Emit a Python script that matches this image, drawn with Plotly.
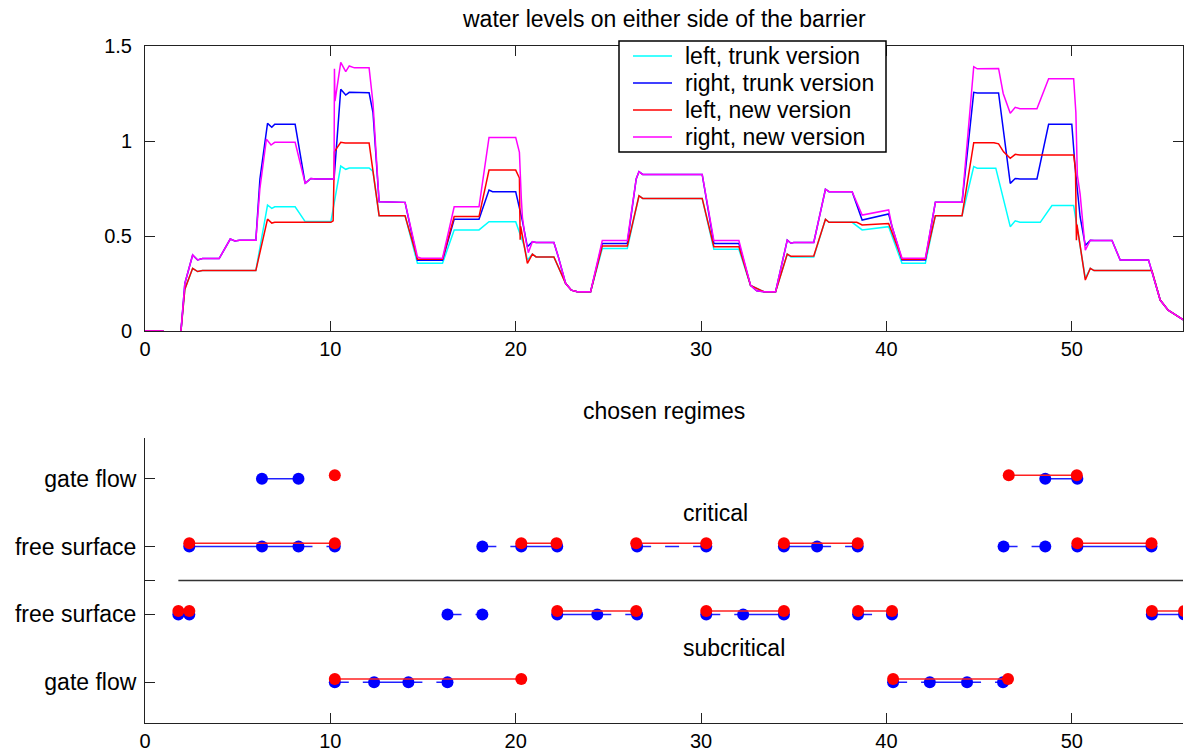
import plotly.graph_objects as go

# ---------------- top panel data: water levels (time, level) ----------------
left_trunk_t = [0, 1.0, None, 1.94, 2.15, 2.57, 2.84, 3.1, 5.98, 6.61, 6.84, 7.0, 8.1, 8.64, 10.03, 10.56, 10.83, 11.02,
                12.09, 12.3, 12.63, 14.03, 14.7, 16.05, 16.68, 18.02, 18.56, 20.0, 20.45, 20.63, 20.9, 21.1, 22.06,
                22.69, 23.0, 23.32, 24.04, 24.67, 26.02, 26.65, 26.85, 30.06, 30.69, 32.04, 32.67, 33.39, 34.02,
                34.65, 34.85, 36.08, 36.71, 36.9, 38.15, 38.69, 40.12, 40.84, 42.1, 42.64, 44.08, 44.71, 44.9, 45.9,
                46.68, 46.95, 47.2, 48.3, 48.93, 50.1, 50.73, 51.0, 51.2, 54.32, 54.77, 55.2, 56.03]
left_trunk_h = [0, 0, None, 0, 0.22, 0.33, 0.313, 0.318, 0.318, 0.663, 0.645, 0.654, 0.654, 0.576, 0.576, 0.868, 0.851,
                0.858, 0.858, 0.84, 0.607, 0.607, 0.356, 0.356, 0.532, 0.532, 0.575, 0.575, 0.45, 0.374, 0.405, 0.39,
                0.39, 0.251, 0.215, 0.207, 0.207, 0.434, 0.434, 0.712, 0.698, 0.698, 0.43, 0.43, 0.24, 0.207, 0.207,
                0.405, 0.39, 0.39, 0.588, 0.572, 0.572, 0.532, 0.549, 0.356, 0.356, 0.607, 0.607, 0.865, 0.857, 0.857,
                0.549, 0.58, 0.572, 0.572, 0.66, 0.66, 0.277, 0.33, 0.318, 0.318, 0.163, 0.11, 0.058]

right_trunk_t = [0, 1.0, None, 1.94, 2.15, 2.57, 2.84, 3.1, 4.0, 4.6, 4.85, 5.1, 5.98, 6.2, 6.61, 6.84, 7.0, 8.1, 8.35,
                 8.64, 8.95, 9.2, 10.03, 10.2, 10.56, 10.83, 11.02, 12.09, 12.3, 12.63, 14.03, 14.7, 16.05, 16.68,
                 18.02, 18.56, 18.75, 20.0, 20.36, 20.63, 20.9, 21.1, 22.06, 22.3, 22.69, 23.0, 23.32, 24.04, 24.67,
                 26.02, 26.5, 26.65, 26.85, 30.06, 30.69, 32.04, 32.67, 33.0, 33.39, 34.02, 34.65, 34.85, 35.0, 36.08,
                 36.71, 36.9, 38.15, 38.69, 40.12, 40.3, 40.84, 42.1, 42.64, 44.08, 44.71, 44.9, 46.05, 46.68, 46.95,
                 47.2, 48.12, 48.75, 50.0, 50.19, 50.45, 50.73, 51.0, 51.2, 52.17, 52.61, 54.14, 54.77, 55.2, 56.03]
right_trunk_h = [0, 0, None, 0, 0.25, 0.40, 0.374, 0.381, 0.381, 0.484, 0.474, 0.477, 0.477, 0.80, 1.093, 1.072, 1.088,
                 1.088, 0.95, 0.777, 0.803, 0.8, 0.8, 0.8, 1.272, 1.242, 1.256, 1.254, 1.15, 0.68, 0.677, 0.373, 0.373,
                 0.588, 0.588, 0.742, 0.733, 0.733, 0.58, 0.443, 0.47, 0.466, 0.466, 0.39, 0.251, 0.215, 0.207, 0.207,
                 0.461, 0.461, 0.80, 0.839, 0.824, 0.824, 0.461, 0.461, 0.24, 0.212, 0.207, 0.207, 0.478, 0.462, 0.466,
                 0.466, 0.746, 0.733, 0.733, 0.584, 0.616, 0.55, 0.374, 0.374, 0.677, 0.677, 1.256, 1.253, 1.253,
                 0.777, 0.803, 0.8, 0.8, 1.088, 1.088, 0.85, 0.60, 0.45, 0.478, 0.476, 0.476, 0.374, 0.374, 0.163,
                 0.11, 0.058]

left_new_t = [0, 1.0, None, 1.94, 2.15, 2.57, 2.84, 3.1, 5.98, 6.61, 6.84, 7.0, 10.03, 10.15, 10.22, 10.56, 10.8, 12.09,
              12.63, 14.03, 14.7, 16.05, 16.68, 18.02, 18.56, 20.0, 20.2, 20.24, 20.27, 20.63, 20.9, 21.1, 22.06,
              22.69, 23.0, 23.32, 24.04, 24.67, 26.02, 26.65, 26.85, 30.06, 30.69, 32.04, 32.67, 33.39, 34.02, 34.65,
              34.85, 36.08, 36.71, 36.9, 38.4, 38.69, 40.12, 40.84, 42.1, 42.64, 44.08, 44.71, 45.8, 46.05, 46.32,
              46.68, 46.95, 47.2, 50.1, 50.2, 50.25, 50.28, 50.73, 51.0, 51.2, 54.32, 54.77, 55.2, 56.03]
left_new_h = [0, 0, None, 0, 0.22, 0.33, 0.313, 0.318, 0.318, 0.589, 0.568, 0.572, 0.572, 0.58, 0.944, 0.993, 0.99,
              0.99, 0.607, 0.607, 0.378, 0.378, 0.602, 0.602, 0.847, 0.847, 0.805, 0.48, 0.55, 0.356, 0.405, 0.39,
              0.39, 0.251, 0.215, 0.207, 0.207, 0.447, 0.447, 0.712, 0.698, 0.698, 0.444, 0.444, 0.24, 0.207, 0.207,
              0.405, 0.393, 0.395, 0.588, 0.572, 0.572, 0.558, 0.566, 0.378, 0.378, 0.607, 0.607, 0.991, 0.991,
              0.985, 0.943, 0.909, 0.93, 0.926, 0.926, 0.85, 0.478, 0.56, 0.268, 0.33, 0.318, 0.318, 0.163, 0.11,
              0.058]

right_new_t = [0, 1.0, None, 1.94, 2.15, 2.57, 2.84, 3.1, 4.0, 4.6, 4.85, 5.1, 5.98, 6.2, 6.55, 6.8, 7.0, 8.1, 8.35,
               8.64, 8.95, 9.2, 10.03, 10.2, 10.22, 10.25, 10.56, 10.83, 11.02, 11.3, 12.09, 12.3, 12.63, 14.03, 14.7,
               14.9, 16.05, 16.68, 18.02, 18.56, 20.0, 20.2, 20.3, 20.36, 20.5, 20.68, 20.9, 21.1, 22.06, 22.3, 22.69,
               23.0, 23.32, 24.04, 24.67, 26.02, 26.5, 26.65, 26.85, 30.06, 30.69, 32.04, 32.67, 33.0, 33.39, 34.02,
               34.65, 34.85, 35.0, 36.08, 36.71, 36.9, 38.15, 38.69, 40.12, 40.3, 40.84, 42.1, 42.64, 44.08, 44.71,
               44.9, 46.05, 46.3, 46.68, 46.95, 47.2, 48.12, 48.75, 50.1, 50.22, 50.3, 50.45, 50.73, 51.0, 51.2,
               52.17, 52.61, 54.14, 54.77, 55.2, 56.03]
right_new_h = [0, 0, None, 0, 0.25, 0.40, 0.374, 0.381, 0.381, 0.484, 0.474, 0.477, 0.477, 0.75, 1.01, 0.979, 0.993,
               0.993, 0.9, 0.777, 0.803, 0.8, 0.8, 0.8, 1.38, 1.21, 1.414, 1.365, 1.395, 1.385, 1.385, 1.2, 0.68,
               0.677, 0.39, 0.383, 0.383, 0.654, 0.654, 1.019, 1.019, 0.94, 0.70, 0.60, 0.50, 0.412, 0.47, 0.466,
               0.466, 0.39, 0.251, 0.215, 0.207, 0.207, 0.476, 0.476, 0.80, 0.839, 0.824, 0.824, 0.476, 0.476, 0.24,
               0.212, 0.207, 0.207, 0.478, 0.462, 0.466, 0.466, 0.746, 0.733, 0.733, 0.61, 0.637, 0.55, 0.383, 0.383,
               0.677, 0.677, 1.391, 1.38, 1.382, 1.25, 1.146, 1.177, 1.17, 1.17, 1.328, 1.328, 1.15, 0.82, 0.72,
               0.426, 0.478, 0.476, 0.476, 0.374, 0.374, 0.163, 0.11, 0.058]

series_names = ["left, trunk version", "right, trunk version", "left, new version", "right, new version"]
series_colors = ["#00ffff", "#0000ff", "#ff0000", "#ff00ff"]

# ---------------- bottom panel data: chosen regimes ----------------
regime_levels = {"gate_sub": 1, "fs_sub": 2, "fs_crit": 3, "gate_crit": 4}
ytick_vals = [1, 2, 2.5, 3, 4]
ytick_text = ["gate flow", "free surface", "", "free surface", "gate flow"]
xtick_vals = [0, 10, 20, 30, 40, 50]
separator_level = 2.5
separator_span = [1.80, 56.0]

# new version: intervals (start, end) spent in each regime
new_intervals = {
    "fs_sub": [(1.80, 2.39), (22.24, 26.5), (30.28, 34.47), (38.47, 40.3), (54.32, 56.06)],
    "fs_crit": [(2.39, 10.24), (20.3, 22.2), (26.5, 30.28), (34.47, 38.45), (50.3, 54.3)],
    "gate_crit": [(10.24, 10.24), (46.6, 50.27)],
    "gate_sub": [(10.24, 20.3), (40.36, 46.56)],
}
# trunk version: intervals drawn solid and dashed
trunk_solid = {
    "gate_crit": [(6.31, 8.28), (48.57, 50.3)],
    "fs_crit": [(2.39, 6.31), (6.31, 8.28), (20.3, 22.24), (34.47, 36.26), (50.3, 54.3)],
    "fs_sub": [(1.80, 2.39), (22.24, 24.4), (32.27, 34.47), (54.32, 56.06)],
    "gate_sub": [(12.36, 14.21), (42.34, 44.35)],
}
trunk_dashed = {
    "fs_crit": [(8.28, 10.24), (18.2, 20.3), (26.55, 30.28), (36.26, 38.45), (46.32, 48.57)],
    "fs_sub": [(16.32, 18.2), (24.4, 26.55), (30.28, 32.27), (38.47, 40.3)],
    "gate_sub": [(10.24, 12.36), (14.21, 16.32), (40.36, 42.34), (44.35, 46.29)],
}

NEW_OFFSET = 0.05
FONT = dict(family="Liberation Sans, Arial, sans-serif", size=23, color="black")
NUM_FONT = dict(family="Liberation Sans, Arial, sans-serif", size=20, color="black")

# figure geometry (pixels) used to place the hand-drawn legend box
W, H = 1190, 754
ML, MR, MT, MB = 145, 7, 46, 31
PW, PH = W - ML - MR, H - MT - MB


def px_to_paper(px, py):
    return (px - ML) / PW, (H - MB - py) / PH


def seg_xy(intervals, offset):
    xs, ys = [], []
    for reg, ivs in intervals.items():
        lvl = regime_levels[reg] + offset
        for a, b in ivs:
            xs += [a, b, None]
            ys += [lvl, lvl, None]
    return xs, ys


def marker_xy(interval_dicts, offset):
    pts = set()
    for d in interval_dicts:
        for reg, ivs in d.items():
            for a, b in ivs:
                pts.add((a, regime_levels[reg] + offset))
                pts.add((b, regime_levels[reg] + offset))
    pts = sorted(pts)
    return [p[0] for p in pts], [p[1] for p in pts]


fig = go.Figure()

# top panel
for t, h, name, col in zip([left_trunk_t, right_trunk_t, left_new_t, right_new_t],
                           [left_trunk_h, right_trunk_h, left_new_h, right_new_h],
                           series_names, series_colors):
    fig.add_trace(go.Scatter(x=t, y=h, mode="lines", name=name, line=dict(color=col, width=1.5),
                             connectgaps=False, showlegend=False, xaxis="x", yaxis="y"))

# bottom panel
fig.add_trace(go.Scatter(x=separator_span, y=[separator_level] * 2, mode="lines",
                         line=dict(color="#333333", width=1.5), showlegend=False, xaxis="x2", yaxis="y2"))
sx, sy = seg_xy(trunk_solid, 0)
fig.add_trace(go.Scatter(x=sx, y=sy, mode="lines", line=dict(color="#2020ff", width=1.5),
                         showlegend=False, xaxis="x2", yaxis="y2"))
dx, dy = seg_xy(trunk_dashed, 0)
fig.add_trace(go.Scatter(x=dx, y=dy, mode="lines", line=dict(color="#2020ff", width=1.5, dash="14px,14px"),
                         showlegend=False, xaxis="x2", yaxis="y2"))
mx, my = marker_xy([trunk_solid, trunk_dashed], 0)
fig.add_trace(go.Scatter(x=mx, y=my, mode="markers", marker=dict(color="#0000ff", size=12),
                         showlegend=False, xaxis="x2", yaxis="y2"))
nx, ny = seg_xy(new_intervals, NEW_OFFSET)
fig.add_trace(go.Scatter(x=nx, y=ny, mode="lines", line=dict(color="#ff2020", width=1.5),
                         showlegend=False, xaxis="x2", yaxis="y2"))
rx, ry = marker_xy([new_intervals], NEW_OFFSET)
fig.add_trace(go.Scatter(x=rx, y=ry, mode="markers", marker=dict(color="#ff0000", size=12),
                         showlegend=False, xaxis="x2", yaxis="y2"))

axis_style = dict(showgrid=False, zeroline=False, showline=True, linecolor="#222222", linewidth=1,
                  ticks="inside", ticklen=10, tickcolor="#222222", automargin=False)

# legend box (drawn by hand so the row spacing matches)
shapes = []
annotations = []
bx0, by0 = px_to_paper(619, 41)
bx1, by1 = px_to_paper(886, 152)
shapes.append(dict(type="rect", xref="paper", yref="paper", x0=bx0, y0=by1, x1=bx1, y1=by0,
                   line=dict(color="black", width=1.5), fillcolor="white", layer="above"))
for i, (name, col) in enumerate(zip(series_names, series_colors)):
    row_py = 56 + 27 * i
    lx0, ly = px_to_paper(633, row_py)
    lx1, _ = px_to_paper(672, row_py)
    shapes.append(dict(type="line", xref="paper", yref="paper", x0=lx0, x1=lx1, y0=ly, y1=ly,
                       line=dict(color=col, width=1.5), layer="above"))
    tx, _ = px_to_paper(683, row_py)
    annotations.append(dict(text=name, x=tx, y=ly, xref="paper", yref="paper", xanchor="left",
                            yanchor="middle", showarrow=False, font=FONT))

_, ty0 = px_to_paper(664, 19)
_, ty1 = px_to_paper(664, 411)
annotations += [
    dict(text="water levels on either side of the barrier", x=0.5, y=ty0, xref="paper", yref="paper",
         xanchor="center", yanchor="middle", showarrow=False, font=FONT),
    dict(text="chosen regimes", x=0.5, y=ty1, xref="paper", yref="paper",
         xanchor="center", yanchor="middle", showarrow=False, font=FONT),
    dict(text="critical", x=28.9, y=3.5, xref="x2", yref="y2", xanchor="left", yanchor="middle",
         showarrow=False, font=FONT),
    dict(text="subcritical", x=28.9, y=1.5, xref="x2", yref="y2", xanchor="left", yanchor="middle",
         showarrow=False, font=FONT),
]

top_dom0 = (H - MB - 331) / PH
bot_dom1 = (H - MB - 438) / PH

fig.update_layout(
    width=W, height=H,
    margin=dict(l=ML, r=MR, t=MT, b=MB, autoexpand=False),
    paper_bgcolor="white", plot_bgcolor="white",
    font=FONT,
    showlegend=False,
    xaxis=dict(domain=[0, 1], anchor="y", range=[0, 56], tickvals=xtick_vals, mirror="ticks",
               tickfont=NUM_FONT, **axis_style),
    yaxis=dict(domain=[top_dom0, 1], anchor="x", range=[0, 1.5], tickvals=[0, 0.5, 1, 1.5],
               ticktext=["0", "0.5", "1", "1.5"], mirror="ticks", ticklabelstandoff=8, tickfont=NUM_FONT,
               **axis_style),
    xaxis2=dict(domain=[0, 1], anchor="y2", range=[0, 56], tickvals=xtick_vals, tickfont=NUM_FONT,
                **axis_style),
    yaxis2=dict(domain=[0, bot_dom1], anchor="x2", range=[0.4, 4.6], tickvals=ytick_vals, ticktext=ytick_text,
                ticklabelstandoff=3, tickfont=FONT, **axis_style),
    shapes=shapes,
    annotations=annotations,
)

fig.write_html("out.html", config={"displayModeBar": False},
               post_script="document.documentElement.style.margin='0';document.body.style.margin='0';"
                           "document.body.style.overflow='hidden';")
